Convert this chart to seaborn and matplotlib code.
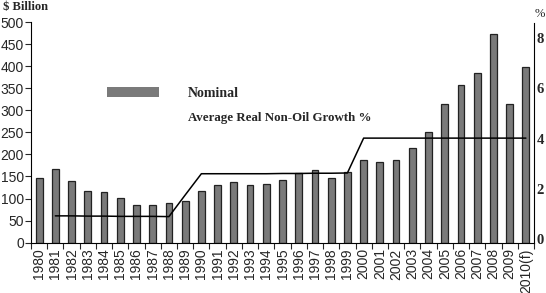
import pandas as pd
import matplotlib.pyplot as plt
import matplotlib.patches as mpatches
import matplotlib.lines as mlines
import seaborn as sns

# Nominal non-oil GDP, $ billion
years = [str(y) for y in range(1980, 2010)] + ['2010(f)']
nominal = [146, 166, 139, 118, 114, 101, 86, 86, 90, 95,
           116, 131, 137, 131, 134, 143, 157, 164, 146, 161,
           188, 182, 188, 215, 250, 315, 358, 385, 472, 315, 397]

# Average real non-oil growth %, from 1981 onwards
growth_years = years[1:]
growth = [0.92, 0.92, 0.91, 0.91, 0.90, 0.90, 0.90, 0.89, 1.75,
          2.60, 2.60, 2.60, 2.60, 2.60, 2.61, 2.61, 2.62, 2.62, 2.63,
          4.02, 4.02, 4.02, 4.02, 4.02, 4.02, 4.02, 4.02, 4.02, 4.02, 4.02]

sns.set_style('white')
serif = ['Liberation Serif', 'DejaVu Serif']
sans = ['Liberation Sans', 'DejaVu Sans']
plt.rcParams['font.family'] = sans

fig = plt.figure(figsize=(5.46, 2.93), dpi=100)
ax = fig.add_axes([31 / 546, 1 - 242.7 / 293, 503 / 546, 220.7 / 293])

bars = pd.DataFrame({'year': years, 'nominal': nominal})
sns.barplot(data=bars, x='year', y='nominal', color='#7a7a7a', saturation=1,
            width=0.42, edgecolor='#222222', linewidth=0.9, ax=ax)
ax.set_xlim(-0.5, len(years) - 0.5)
ax.set_ylim(0, 500)
ax.set_yticks(range(0, 501, 50))
ax.set_xlabel('')
ax.set_ylabel('')
ax.tick_params(axis='y', labelsize=10, length=4, width=0.8, direction='out', left=True, pad=1)
ax.tick_params(axis='x', labelsize=10, rotation=90, length=0, pad=4)
# ticks between the categories
ax.set_xticks([i - 0.5 for i in range(len(years) + 1)], minor=True)
ax.tick_params(axis='x', which='minor', length=4, width=0.8, direction='out', bottom=True)
for side in ['top', 'right']:
    ax.spines[side].set_visible(False)
for side in ['left', 'bottom']:
    ax.spines[side].set_color('black')
    ax.spines[side].set_linewidth(0.8)

ax2 = ax.twinx()
line = pd.DataFrame({'year': growth_years, 'growth': growth})
sns.lineplot(data=line, x='year', y='growth', color='black', linewidth=1.1, ax=ax2)
ax2.set_ylim(-0.15, 8.65)
ax2.set_yticks([0, 2, 4, 6, 8])
ax2.set_yticklabels(['0', '2', '4', '6', '8'], family=serif, fontweight='bold', fontsize=10.5)
ax2.tick_params(axis='y', length=0, pad=2)
ax2.set_ylabel('')
ax2.set_xlabel('')
for side in ['top', 'left', 'bottom']:
    ax2.spines[side].set_visible(False)
ax2.spines['right'].set_color('black')
ax2.spines['right'].set_linewidth(0.8)
ax2.spines['right'].set_bounds(-0.15, 8.6)

fig.text(3 / 546, 1 - 7 / 293, '$ Billion', family=serif, fontweight='bold',
         fontsize=9, va='center', ha='left')
fig.text(545 / 546, 1 - 14 / 293, '%', family=serif, fontsize=9, va='center', ha='right')

handles = [mpatches.Patch(facecolor='#7a7a7a', edgecolor='none'),
           mlines.Line2D([], [], color='none')]
leg = ax.legend(handles, ['Nominal', 'Average Real Non-Oil Growth %'],
                loc='upper left', bbox_to_anchor=(63 / 503, 1 - 52.5 / 220.7),
                frameon=False, handlelength=3.75, handleheight=0.68,
                handletextpad=2.1, labelspacing=0.8)
texts = leg.get_texts()
texts[0].set_fontproperties({'family': serif, 'weight': 'bold', 'size': 10})
texts[1].set_fontproperties({'family': serif, 'weight': 'bold', 'size': 9.3})

fig.savefig('out.png', dpi=100)
